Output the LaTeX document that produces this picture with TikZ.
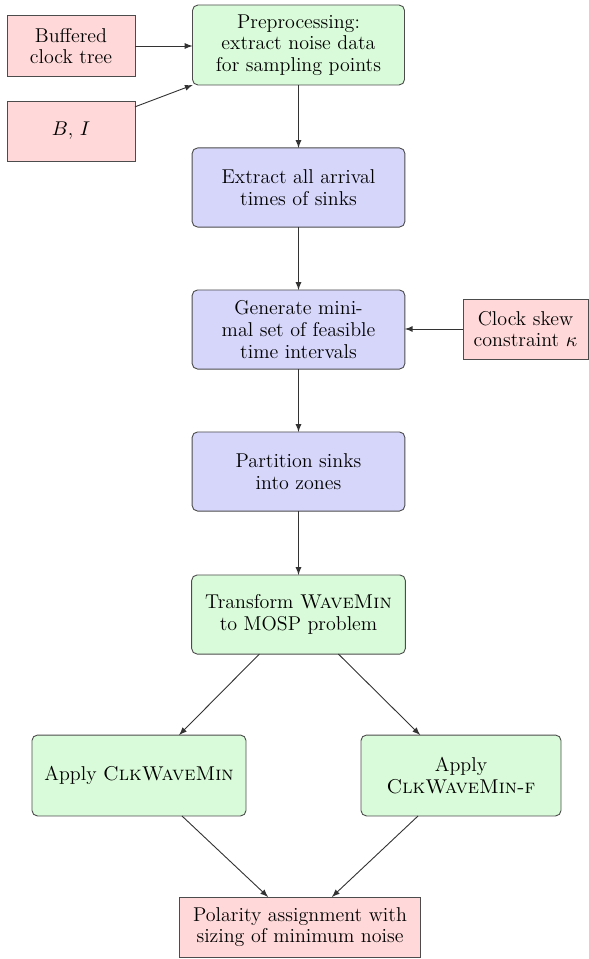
\documentclass[tikz,border=0pt]{standalone}
\usetikzlibrary{arrows}
\definecolor{boxgreen}{RGB}{217,251,217}
\definecolor{boxblue}{RGB}{214,214,251}
\definecolor{boxred}{RGB}{255,217,217}
\begin{document}
\begin{tikzpicture}[x=0.55pt,y=-0.55pt,>=latex,
  base/.style={draw=black!70,line width=0.5pt,align=center,inner sep=2pt,outer sep=0pt,
    font=\fontsize{11}{11.9}\selectfont},
  greenbox/.style={base,fill=boxgreen,rounded corners=3pt},
  bluebox/.style={base,fill=boxblue,rounded corners=3pt},
  redbox/.style={base,fill=boxred},
  flow/.style={->,draw=black!80,line width=0.5pt}]
\useasboundingbox (0,0) rectangle (589,959);

% main column
\node[greenbox,minimum width=116.6pt,minimum height=44pt] (pre) at (298.5,45)
  {Preprocessing:\\extract noise data\\for sampling points};
\node[bluebox,minimum width=117pt,minimum height=43.5pt] (ext) at (298.5,187.5)
  {Extract all arrival\\times of sinks};
\node[bluebox,minimum width=117pt,minimum height=43.5pt] (gen) at (298.5,329.5)
  {Generate mini-\\mal set of feasible\\time intervals};
\node[bluebox,minimum width=117pt,minimum height=43.5pt] (part) at (298.5,471.5)
  {Partition sinks\\into zones};
\node[greenbox,minimum width=117.5pt,minimum height=43.5pt] (trans) at (298.5,614.5)
  {Transform \textsc{WaveMin}\\to MOSP problem};
\node[greenbox,minimum width=117.7pt,minimum height=44.5pt] (appl) at (139,775.5)
  {Apply \textsc{ClkWaveMin}};
\node[greenbox,minimum width=110pt,minimum height=44.5pt] (appr) at (461,775.5)
  {Apply\\\textsc{ClkWaveMin-f}};
\node[redbox,minimum width=132.5pt,minimum height=33pt] (pol) at (300,927)
  {Polarity assignment with\\sizing of minimum noise};

% inputs
\node[redbox,minimum width=70.4pt,minimum height=34pt] (buf) at (71,46)
  {Buffered\\clock tree};
\node[redbox,minimum width=70.4pt,minimum height=33pt] (bi) at (71,131)
  {$B$, $I$};
\node[redbox,minimum width=68.8pt,minimum height=33pt] (skew) at (525.5,329)
  {Clock skew\\constraint $\kappa$};

% connectors
\draw[flow] (buf.east) -- (buf.east -| pre.west);
\draw[flow] (bi) -- (pre);
\draw[flow] (pre) -- (ext);
\draw[flow] (ext) -- (gen);
\draw[flow] (skew.west) -- (skew.west -| gen.east);
\draw[flow] (gen) -- (part);
\draw[flow] (part) -- (trans);
\draw[flow] (trans) -- (appl);
\draw[flow] (trans) -- (appr);
\draw[flow] (appl) -- (pol);
\draw[flow] (appr) -- (pol);
\end{tikzpicture}
\end{document}
